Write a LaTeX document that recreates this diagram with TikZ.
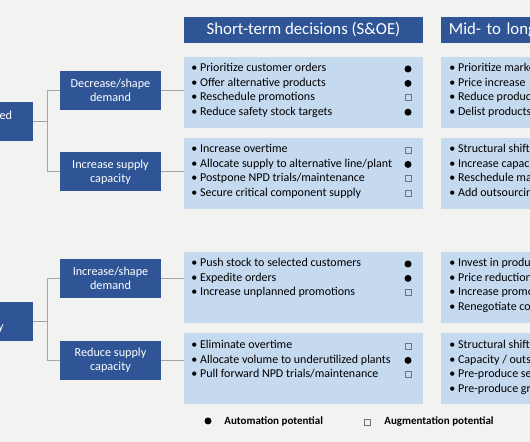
\documentclass[tikz,border=0pt]{standalone}
\usepackage{fontspec}
\setmainfont{Carlito}
\usepackage{xcolor}
\definecolor{darkblu}{HTML}{2F5597}
\definecolor{lightblu}{HTML}{C5D9EF}
\definecolor{bggrey}{HTML}{F2F2F1}
\definecolor{linegrey}{HTML}{A6A6A6}
\usetikzlibrary{positioning}

\begin{document}
\begin{tikzpicture}[x=0.5pt, y=-0.5pt,
  hdr/.style={fill=darkblu, text=white, minimum width=119.5pt, minimum height=13pt, inner sep=0pt, font=\fontsize{8.4}{10}\selectfont},
  dbox/.style={fill=darkblu, text=white, minimum width=50.5pt, minimum height=19.5pt, inner sep=0pt, align=center, font=\fontsize{6.1}{7}\selectfont},
  wtxt/.style={text=white, inner sep=0pt, font=\fontsize{6.1}{7}\selectfont},
  cbox/.style={fill=lightblu, minimum width=119.5pt, minimum height=35.5pt, inner sep=0pt},
  itm/.style={anchor=base west, inner sep=0pt, font=\fontsize{6}{7}\selectfont},
  autom/.style={circle, fill=black, minimum size=3.5pt, inner sep=0pt},
  augm/.style={draw=black!55, line width=0.35pt, minimum size=3pt, inner sep=0pt},
  conn/.style={draw=linegrey, line width=0.5pt},
  lgd/.style={anchor=west, inner sep=0pt, font=\bfseries\fontsize{5.5}{7}\selectfont},
]

\useasboundingbox (0,0) rectangle (530,442);
\clip (0,0) rectangle (530,442);
\fill[bggrey] (0,0) rectangle (530,442);

% column headers
\node[hdr] (hshort) at (303.5,30) {Short-term decisions (S\&OE)};
\node[hdr, anchor=west, text width=112pt, align=left, inner xsep=3.5pt] (hmid) at (441,30) {Mid- to long};

% triggers, cut by the left edge
\node[dbox, anchor=east, minimum width=40pt] (trig1) at (33,121.5) {};
\node[wtxt, anchor=east] (trig1t) at (12.5,115) {ed};
\node[dbox, anchor=east, minimum width=40pt] (trig2) at (33,321.5) {};
\node[wtxt, anchor=east] (trig2t) at (4,329) {y};

% responses
\node[dbox] (decdem) at (110.5,90.5) {Decrease/shape\\demand};
\node[dbox] (incsup) at (110.5,172) {Increase supply\\capacity};
\node[dbox] (incdem) at (110.5,278.5) {Increase/shape\\demand};
\node[dbox] (redsup) at (110.5,360.5) {Reduce supply\\capacity};

% decision boxes
\node[cbox] (st1) at (303.5,92.5) {};
\node[cbox] (st2) at (303.5,173.5) {};
\node[cbox] (st3) at (303.5,288) {};
\node[cbox] (st4) at (303.5,369) {};
\node[cbox, anchor=west] (mt1) at (441,92.5) {};
\node[cbox, anchor=west] (mt2) at (441,173.5) {};
\node[cbox, anchor=west] (mt3) at (441,288) {};
\node[cbox, anchor=west] (mt4) at (441,369) {};

% connectors
\coordinate (j1) at (47,121.5);
\coordinate (j2) at (47,321.5);
\draw[conn] (trig1.east) -- (j1) (j1) |- (decdem.west) (j1) |- (incsup.west);
\draw[conn] (trig2.east) -- (j2) (j2) |- (incdem.west) (j2) |- (redsup.west);
\draw[conn] (decdem.east) -- (decdem.east -| st1.west);
\draw[conn] (incsup.east) -- (incsup.east -| st2.west);
\draw[conn] (incdem.east) -- (incdem.east -| st3.west);
\draw[conn] (redsup.east) -- (redsup.east -| st4.west);

% short-term items
\foreach \txt/\mk [count=\i] in {Prioritize customer orders/autom, Offer alternative products/autom, Reschedule promotions/augm, Reduce safety stock targets/autom}{
  \node[itm] (st1i\i) at ({191},{72+14.4*(\i-1)}) {• \txt};
  \node[\mk] (st1m\i) at ({408},{69+14.4*(\i-1)}) {};
}
\foreach \txt/\mk [count=\i] in {Increase overtime/augm, {Allocate supply to alternative line/plant}/autom, {Postpone NPD trials/maintenance}/augm, Secure critical component supply/augm}{
  \node[itm] (st2i\i) at ({191},{153+14.4*(\i-1)}) {• \txt};
  \node[\mk] (st2m\i) at ({408},{150+14.4*(\i-1)}) {};
}
\foreach \txt/\mk [count=\i] in {Push stock to selected customers/autom, Expedite orders/autom, Increase unplanned promotions/augm}{
  \node[itm] (st3i\i) at ({191},{267+14.4*(\i-1)}) {• \txt};
  \node[\mk] (st3m\i) at ({408},{264+14.4*(\i-1)}) {};
}
\foreach \txt/\mk [count=\i] in {Eliminate overtime/augm, Allocate volume to underutilized plants/autom, {Pull forward NPD trials/maintenance}/augm}{
  \node[itm] (st4i\i) at ({191},{349+14.4*(\i-1)}) {• \txt};
  \node[\mk] (st4m\i) at ({408},{346+14.4*(\i-1)}) {};
}

% mid- to long-term items, cut by the right edge
\foreach \txt [count=\i] in {Prioritize marke, Price increase, Reduce produc, Delist products}
  \node[itm] (mt1i\i) at ({449},{72+14.4*(\i-1)}) {• \txt};
\foreach \txt [count=\i] in {Structural shift, Increase capaci, Reschedule ma, Add outsourcin}
  \node[itm] (mt2i\i) at ({449},{153+14.4*(\i-1)}) {• \txt};
\foreach \txt [count=\i] in {Invest in produ, Price reduction, Increase promo, Renegotiate co}
  \node[itm] (mt3i\i) at ({449},{267+14.4*(\i-1)}) {• \txt};
\foreach \txt [count=\i] in {Structural shift, Capacity / outs, Pre-produce se, Pre-produce gr}
  \node[itm] (mt4i\i) at ({449},{349+14.4*(\i-1)}) {• \txt};

% legend
\node[autom] (lgauto) at (208,421) {};
\node[lgd] (lgautot) at (224,421) {Automation potential};
\node[augm] (lgaug) at (367,422) {};
\node[lgd] (lgaugt) at (384,422) {Augmentation potential};

\end{tikzpicture}
\end{document}
